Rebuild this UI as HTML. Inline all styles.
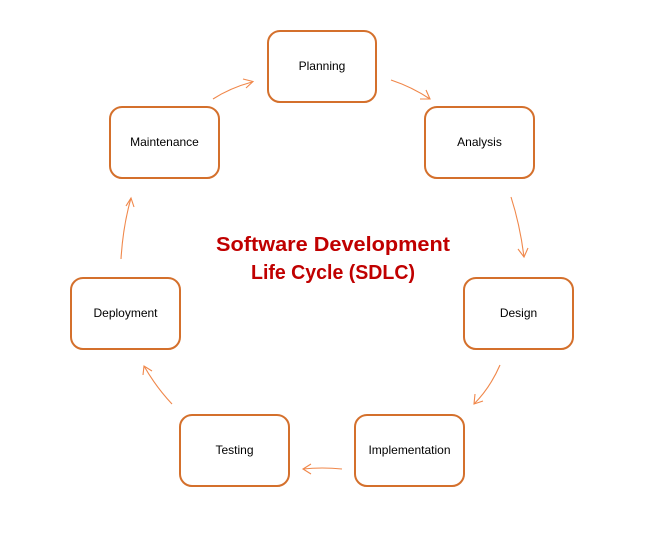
<!DOCTYPE html>
<html><head><meta charset="utf-8"><style>
html,body{margin:0;padding:0;background:#fff;}
svg{display:block}
</style></head><body>
<svg width="651" height="546" xmlns="http://www.w3.org/2000/svg" font-family="Liberation Sans, sans-serif">
<g fill="#fff" stroke="#d4702c" stroke-width="2">
<rect x="268" y="31" width="108" height="71" rx="12"/>
<rect x="425" y="107" width="109" height="71" rx="12"/>
<rect x="464" y="278" width="109" height="71" rx="12"/>
<rect x="355" y="415" width="109" height="71" rx="12"/>
<rect x="180" y="415" width="109" height="71" rx="12"/>
<rect x="71" y="278" width="109" height="71" rx="12"/>
<rect x="110" y="107" width="109" height="71" rx="12"/>
</g>
<g font-size="12" fill="#000" text-anchor="middle">
<text x="322" y="70">Planning</text>
<text x="479.5" y="146">Analysis</text>
<text x="518.5" y="317">Design</text>
<text x="409.5" y="454">Implementation</text>
<text x="234.5" y="454">Testing</text>
<text x="125.5" y="317">Deployment</text>
<text x="164.5" y="146">Maintenance</text>
</g>
<g fill="none" stroke="#f0874a" stroke-width="1.1">
<path d="M213,99 Q230,88 252,82"/><path d="M243,79 L253,81.5 L246,88"/>
<path d="M391,80 Q412,87 430,99"/><path d="M420,99 L430,99 L426,90"/>
<path d="M511,197 Q520,225 524,257"/><path d="M518,249 L524,257 L528,248"/>
<path d="M500,365 Q490,388 474,404"/><path d="M475,394 L474,404 L483,401"/>
<path d="M342,469 Q322,467 303,469"/><path d="M311,464 L303,469 L311,474"/>
<path d="M172,404 Q156,387 144,366"/><path d="M143,375 L144,366 L152,371"/>
<path d="M121,259 Q123,226 131,198"/><path d="M126,206 L131,198 L134,207"/>
</g>
<g font-size="20" font-weight="bold" fill="#c00000" text-anchor="middle">
<text x="333" y="251" textLength="234" lengthAdjust="spacingAndGlyphs">Software Development</text>
<text x="333" y="279" textLength="164" lengthAdjust="spacingAndGlyphs">Life Cycle (SDLC)</text>
</g>
</svg>
</body></html>
